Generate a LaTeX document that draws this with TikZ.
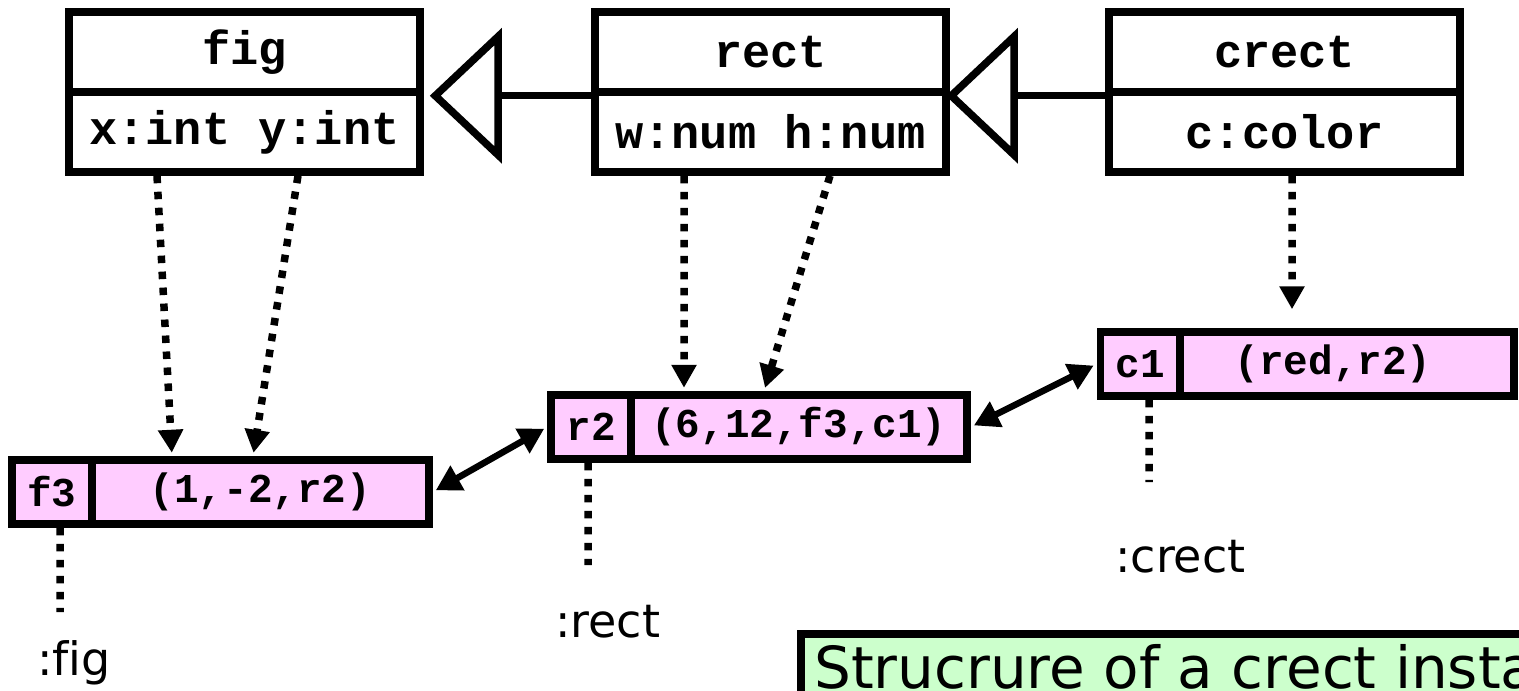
\documentclass[tikz,border=0pt]{standalone}
\usepackage{fontspec}
\setmainfont{DejaVu Sans}[Ligatures=NoCommon]
\setmonofont{Liberation Mono}
\usetikzlibrary{arrows.meta}

\definecolor{objpink}{RGB}{255,204,255}
\definecolor{notegreen}{RGB}{204,255,204}

\begin{document}
\begin{tikzpicture}[x=1bp,y=-1bp,
  classcell/.style={draw, line width=7.5bp, minimum width=351bp, minimum height=80bp,
    inner sep=0pt, font=\fontsize{47bp}{50bp}\selectfont\ttfamily\bfseries},
  keycell/.style={draw, fill=objpink, line width=7.5bp, minimum width=80bp, minimum height=64bp,
    inner sep=0pt, font=\fontsize{41bp}{44bp}\selectfont\ttfamily\bfseries},
  valcell/.style={keycell, minimum width=#1},
  inherit/.style={line width=7.5bp, -{Triangle[open, length=72bp, width=134bp]}},
  dotline/.style={line width=7.5bp, dash pattern=on 7.5bp off 8.5bp},
  dotarrow/.style={dotline, -{Triangle[length=23bp, width=24bp]}, shorten >=3.5bp},
  link/.style={line width=6.5bp, {Triangle[length=25bp, width=27bp]}-{Triangle[length=25bp, width=27bp]},
    shorten <=3.5bp, shorten >=3.5bp},
  instlabel/.style={anchor=base west, inner sep=0pt, font=\fontsize{46bp}{50bp}\selectfont},
  notebox/.style={draw, fill=notegreen, line width=7.5bp, inner sep=0pt}
]
\useasboundingbox (0,0) rectangle (1519,691);
\clip (0,0) rectangle (1519,691);

% class boxes: name compartment above, attribute compartment below
\node[classcell] (figname)   at (244.5,52)  {fig};
\node[classcell] (figattr)   at (244.5,132) {x:int y:int};
\node[classcell] (rectname)  at (770.5,52)  {rect};
\node[classcell] (rectattr)  at (770.5,132) {w:num h:num};
\node[classcell] (crectname) at (1284.5,52) {crect};
\node[classcell] (crectattr) at (1284.5,132) {c:color};

% inheritance
\draw[inherit] (rectname.south west) -- ([xshift=6bp]figname.south east);
\draw[inherit] (crectname.south west) -- ([xshift=-4bp]rectname.south east);

% object records
\node[keycell] (f3k) at (52,492) {f3};
\node[valcell=337bp] (f3v) at (260.5,492) {(1,-2,r2)};
\node[keycell] (r2k) at (591,427) {r2};
\node[valcell=336bp] (r2v) at (799,427) {(6,12,f3,c1)};
\node[keycell=79bp] (c1k) at (1140.5,364) {c1};
\node[valcell=334bp] (c1v) at (1347,364) {\hspace*{-28bp}(red,r2)};

% attribute slots to record fields
\draw[dotarrow] ([xshift=-87.5bp]figattr.south) -- ([xshift=-88.5bp]f3v.north);
\draw[dotarrow] ([xshift=53.5bp]figattr.south) -- ([xshift=-7.5bp]f3v.north);
\draw[dotarrow] ([xshift=-86.5bp]rectattr.south) -- ([xshift=-115bp]r2v.north);
\draw[dotarrow] ([xshift=59.5bp]rectattr.south) -- ([xshift=-35bp]r2v.north);
\draw[dotarrow, shorten >=19bp] ([xshift=7.5bp]crectattr.south) -- ([xshift=-55bp]c1v.north);

% links between records
\draw[link] (f3v.east) -- (r2k.west);
\draw[link] (r2v.east) -- (c1k.west);

% record type labels
\coordinate (figend) at (60,612);
\coordinate (rectend) at (588,565);
\coordinate (crectend) at (1149,482);
\draw[dotline] ([xshift=8bp]f3k.south) -- (figend);
\draw[dotline] ([xshift=-3bp]r2k.south) -- (rectend);
\draw[dotline] ([xshift=8.5bp]c1k.south) -- (crectend);
\node[instlabel] (figlbl) at (37,675) {:fig};
\node[instlabel] (rectlbl) at (555,637) {:rect};
\node[instlabel] (crectlbl) at (1115,572) {:crect};

% caption box
\node[notebox, anchor=north west, minimum width=800bp, minimum height=140bp] (note) at (797,630) {};
\node[instlabel, font=\fontsize{58bp}{62bp}\selectfont] (notetext) at (814,688) {Strucrure of a crect instance};
\end{tikzpicture}
\end{document}
